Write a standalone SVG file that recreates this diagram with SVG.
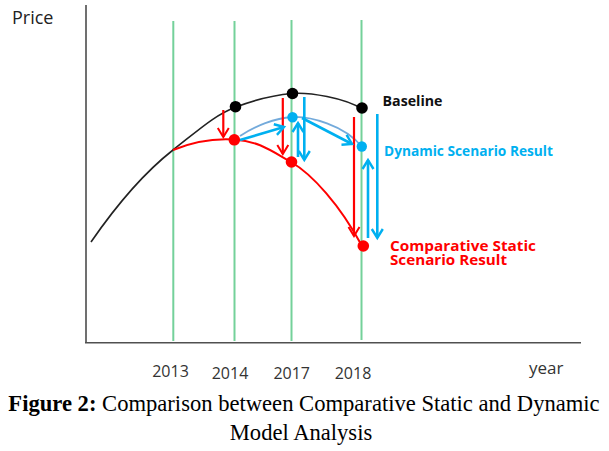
<svg xmlns="http://www.w3.org/2000/svg" width="609" height="451" viewBox="0 0 609 451">
<style>
.lbl{font-family:"Open Sans","Liberation Sans",sans-serif;}
.yr{font-family:"Open Sans","Liberation Sans",sans-serif;font-size:16px;fill:#333;text-anchor:middle;}
.grid{stroke:#74d19a;stroke-width:2;}
.ra{stroke:#ff0000;stroke-width:2.2;fill:none;marker-end:url(#ah-red);}
.ba{stroke:#00b0f0;stroke-width:2.6;fill:none;marker-end:url(#ah-blue);}
.cap{font-family:"Liberation Serif","Times New Roman",serif;font-size:22.6px;fill:#000;text-anchor:middle;}
</style>
<defs>
<marker id="ah-red" markerUnits="userSpaceOnUse" markerWidth="14" markerHeight="14" refX="11" refY="7" orient="auto">
<path d="M2,1.5 L11,7 L2,12.5" fill="none" stroke="#ff0000" stroke-width="2"/>
</marker>
<marker id="ah-blue" markerUnits="userSpaceOnUse" markerWidth="14" markerHeight="14" refX="11" refY="7" orient="auto">
<path d="M2,1.5 L11,7 L2,12.5" fill="none" stroke="#00b0f0" stroke-width="2.4"/>
</marker>
</defs>
<rect width="609" height="451" fill="#fff"/>

<g id="axes">
<line x1="86" y1="5" x2="86" y2="343" stroke="#707070" stroke-width="2"/>
<line x1="85" y1="342.7" x2="581" y2="342.7" stroke="#505050" stroke-width="1.6"/>
</g>

<g id="year-lines">
<line class="grid" x1="173.3" y1="21" x2="173.3" y2="341"/>
<line class="grid" x1="234.5" y1="21" x2="234.5" y2="341"/>
<line class="grid" x1="291.5" y1="20" x2="291.5" y2="341"/>
<line class="grid" x1="361.5" y1="20" x2="361.5" y2="340"/>
</g>

<g id="curves">
<path id="baseline-curve" d="M91,242 C120,200 145,172 173,150 S215,115 236,107 S275,95 292,93.5 S345,98 362,109" fill="none" stroke="#222" stroke-width="1.6"/>
<path id="static-curve" d="M173,150 C190,143 210,138 234,139.5 S270,150 291,162 S340,205 362,246" fill="none" stroke="#ff0000" stroke-width="2"/>
<path id="dynamic-curve" d="M240,136 C255,126 275,118 292,117 S345,125 362,147" fill="none" stroke="#5b9bd5" stroke-width="1.8" opacity="0.85"/>
</g>

<g id="connectors">
<line class="ra" x1="223.3" y1="110" x2="223.3" y2="137"/>
<line class="ra" x1="282.8" y1="98" x2="282.8" y2="154"/>
<line class="ra" x1="354" y1="117" x2="354" y2="236"/>
<line class="ba" x1="240" y1="140" x2="284" y2="127"/>
<line class="ba" x1="302" y1="118" x2="352" y2="144"/>
<line class="ba" x1="304.3" y1="97" x2="304.3" y2="160"/>
<line class="ba" x1="298" y1="157" x2="298" y2="123"/>
<line class="ba" x1="368" y1="238" x2="368" y2="160"/>
<line class="ba" x1="377.3" y1="114" x2="377.3" y2="238"/>
</g>

<g id="node-baseline-2014"><circle cx="235.5" cy="106.7" r="5.8" fill="#000"/></g>
<g id="node-baseline-2017"><circle cx="292.5" cy="93.5" r="5.8" fill="#000"/></g>
<g id="node-baseline-2018"><circle cx="362" cy="108" r="5.8" fill="#000"/></g>
<g id="node-static-2014"><circle cx="234.3" cy="139.8" r="5.8" fill="#ff0000"/></g>
<g id="node-static-2017"><circle cx="291.5" cy="162" r="5.8" fill="#ff0000"/></g>
<g id="node-static-2018"><circle cx="363.3" cy="246" r="5.8" fill="#ff0000"/></g>
<g id="node-dynamic-2017"><circle cx="292.5" cy="117.3" r="5.2" fill="#00b0f0"/></g>
<g id="node-dynamic-2018"><circle cx="361.8" cy="146.5" r="5.2" fill="#00b0f0"/></g>

<g id="labels">
<text class="lbl" x="12" y="24" font-size="18" fill="#222">Price</text>
<text class="yr" x="170.5" y="377">2013</text>
<text class="yr" x="230" y="379">2014</text>
<text class="yr" x="291.7" y="379">2017</text>
<text class="yr" x="353" y="379">2018</text>
<text class="lbl" x="529" y="374" font-size="17" fill="#333">year</text>
<text class="lbl" x="382.5" y="106" font-size="14" font-weight="bold" fill="#111" textLength="60" lengthAdjust="spacingAndGlyphs">Baseline</text>
<text class="lbl" x="384" y="156" font-size="13.5" font-weight="bold" fill="#00b0f0" textLength="169" lengthAdjust="spacingAndGlyphs">Dynamic Scenario Result</text>
<text class="lbl" font-size="14" font-weight="bold" fill="#ff0000"><tspan x="390" y="251" textLength="146" lengthAdjust="spacingAndGlyphs">Comparative Static</tspan><tspan x="390" y="264.5" textLength="117" lengthAdjust="spacingAndGlyphs">Scenario Result</tspan></text>
</g>

<g id="caption">
<text class="cap" x="304" y="411"><tspan font-weight="bold">Figure 2:</tspan> Comparison between Comparative Static and Dynamic</text>
<text class="cap" x="301" y="440">Model Analysis</text>
</g>
</svg>
